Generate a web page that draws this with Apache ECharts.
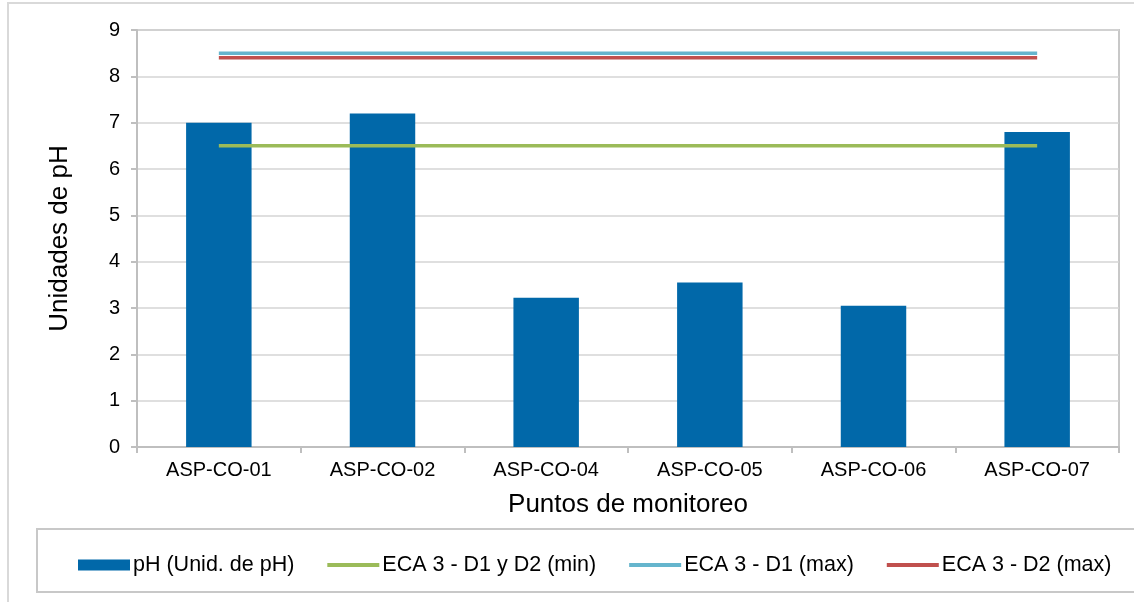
<!DOCTYPE html>
<html>
<head>
<meta charset="utf-8">
<style>
html,body{margin:0;padding:0;background:#fff;}
#chart{width:1134px;height:602px;}
</style>
<script src="https://cdn.jsdelivr.net/npm/echarts@6/dist/echarts.min.js"></script>
</head>
<body>
<div id="chart"></div>
<script>
const categories = ['ASP-CO-01', 'ASP-CO-02', 'ASP-CO-04', 'ASP-CO-05', 'ASP-CO-06', 'ASP-CO-07'];
const phValues = [7.0, 7.2, 3.22, 3.55, 3.05, 6.8];
const ecaMinValues = [6.5, 6.5, 6.5, 6.5, 6.5, 6.5];
const ecaD1MaxValues = [8.5, 8.5, 8.5, 8.5, 8.5, 8.5];
const ecaD2MaxValues = [8.4, 8.4, 8.4, 8.4, 8.4, 8.4];
const yTicks = [0, 1, 2, 3, 4, 5, 6, 7, 8, 9];
const seriesNames = ['pH (Unid. de pH)', 'ECA 3 - D1 y D2 (min)', 'ECA 3 - D1 (max)', 'ECA 3 - D2 (max)'];
const xTitle = 'Puntos de monitoreo';
const yTitle = 'Unidades de pH';

const FONT = "'Liberation Sans', Arial, sans-serif";
const chart = echarts.init(document.getElementById('chart'), null, {renderer: 'canvas'});
const LINE_ICON = 'path://M0,0 H52 V4 H0 Z';

function lineSeries(name, data, color) {
  return {
    name: name, type: 'line', data: data, symbol: 'none',
    lineStyle: {color: color, width: 3.5}, itemStyle: {color: color},
    z: 3, animation: false
  };
}

chart.setOption({
  animation: false,
  backgroundColor: '#fff',
  textStyle: {fontFamily: FONT},
  graphic: [
    {type: 'rect', shape: {x: 8, y: 3, width: 1200, height: 700}, style: {fill: 'none', stroke: '#D9D9D9', lineWidth: 2}, z: -10},
    {type: 'rect', shape: {x: 37, y: 529, width: 1160, height: 63}, style: {fill: 'none', stroke: '#C8C8C8', lineWidth: 2}, z: -5}
  ],
  grid: {left: 137, right: 15, top: 30, height: 417, show: true, borderColor: '#C8C8C8', borderWidth: 2, backgroundColor: 'transparent'},
  legend: {
    left: 73, top: 549,
    itemWidth: 52, itemHeight: 11, itemGap: 33,
    textStyle: {fontFamily: FONT, fontSize: 21.5, color: '#000', padding: [0, 0, 0, -2]},
    data: [
      {name: seriesNames[0], icon: 'rect'},
      {name: seriesNames[1], icon: LINE_ICON},
      {name: seriesNames[2], icon: LINE_ICON},
      {name: seriesNames[3], icon: LINE_ICON}
    ]
  },
  xAxis: {
    type: 'category', data: categories,
    name: xTitle, nameLocation: 'middle', nameGap: 45,
    nameTextStyle: {fontFamily: FONT, fontSize: 26, color: '#000'},
    axisLine: {lineStyle: {color: '#BFBFBF', width: 2}},
    axisTick: {show: true, length: 6, lineStyle: {color: '#BFBFBF', width: 2}},
    axisLabel: {fontFamily: FONT, fontSize: 20, color: '#000', margin: 13}
  },
  yAxis: {
    type: 'value', min: 0, max: 9, interval: 1,
    name: yTitle, nameLocation: 'middle', nameGap: 64, nameRotate: 90,
    nameTextStyle: {fontFamily: FONT, fontSize: 26, color: '#000'},
    axisLine: {show: true, lineStyle: {color: '#BFBFBF', width: 2}},
    axisTick: {show: true, length: 6, lineStyle: {color: '#BFBFBF', width: 2}},
    axisLabel: {fontFamily: FONT, fontSize: 20, color: '#000', margin: 17,
      formatter: v => yTicks.includes(v) ? String(v) : ''},
    splitLine: {show: true, lineStyle: {color: '#D4D4D4', width: 1.5}}
  },
  series: [
    {name: seriesNames[0], type: 'bar', data: phValues, barWidth: '40%',
      itemStyle: {color: '#0168A9'}, z: 2},
    lineSeries(seriesNames[1], ecaMinValues, '#9BBB59'),
    lineSeries(seriesNames[2], ecaD1MaxValues, '#65B5CD'),
    lineSeries(seriesNames[3], ecaD2MaxValues, '#C0504D')
  ]
});
</script>
</body>
</html>
